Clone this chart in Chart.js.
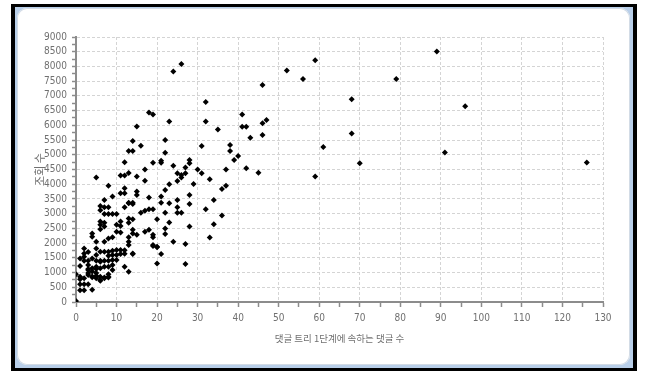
<!DOCTYPE html>
<html>
<head>
<meta charset="utf-8">
<script src="https://cdn.jsdelivr.net/npm/chart.js@4/dist/chart.umd.min.js"></script>
<style>
  html, body { margin: 0; padding: 0; background: #ffffff; }
  body { width: 645px; height: 371px; position: relative; overflow: hidden; }
  #frame {
    position: absolute; left: 11px; top: 4px; width: 618px; height: 361px;
    border: 4px solid #000; border-top-width: 3px; background: #b9cfe9;
  }
  #panel {
    position: absolute; left: 2px; top: 1px; right: 3px; bottom: 3px;
    background: #fff; border-radius: 10px;
    box-shadow: inset 0 0 0 1px #d3dce6;
  }
  #plot { position: absolute; left: 0; top: 0; }
</style>
</head>
<body>
<div id="frame"><div id="panel"></div></div>
<canvas id="plot" width="645" height="371"></canvas>
<script>
// Replies in the first level of the comment tree (x) and view counts (y), one entry per post
const replyCounts = [
  5, 11, 12, 13, 12, 15, 13, 14, 14, 15, 16, 17, 17, 18, 19, 19, 21, 21, 22, 22,
  23, 24, 26, 24, 25, 25, 26, 26, 27, 27, 28, 28, 30, 31, 31, 32, 32, 33, 35, 37,
  38, 38, 39, 40, 41, 41, 42, 42, 43, 45, 46, 46, 47, 46, 52, 56, 59, 59, 61, 68,
  68, 70, 79, 89, 96, 91, 126, 29, 23,
  8, 9, 11, 12, 12, 15, 15, 18, 21, 22, 7, 13, 14, 21, 23, 25,
  36, 37, 34, 32, 36, 34, 33,
  16, 17, 18, 19, 20, 22, 25, 25, 26, 28, 28, 28, 27, 24, 22, 22, 23, 21, 20, 27,
  19, 20, 14, 15, 17, 18, 19, 19, 19, 20, 14, 12, 13,
  0, 0,
  1, 1, 1, 1, 2, 2, 3, 4,
  2, 2, 2, 3, 3, 4, 1, 2,
  3, 3, 4, 4, 3, 3, 4, 1, 2, 3, 4,
  5, 5, 5, 5, 5, 6, 6, 6, 6, 7, 7, 8, 8, 8, 7, 8, 9, 9, 6, 7, 8, 9, 10, 5, 6,
  5, 5, 5, 6, 7, 8, 9, 10, 11, 11, 10, 9, 8,
  4, 4, 7, 8, 9,
  6, 6, 7, 7, 6, 10, 11, 10, 11,
  6, 6, 7, 8, 7, 8, 9, 10, 12, 13, 14,
  11, 13, 13, 14,
  13, 13, 13, 14, 14, 12, 12
];
const viewCounts = [
  4230, 4300, 4300, 4380, 4750, 4260, 5130, 5130, 5470, 5960, 5310, 4500, 4120, 6440, 6370, 4730, 4800, 4730, 5500, 5070,
  6130, 7830, 8080, 4630, 4370, 4110, 4230, 4310, 4570, 4370, 4820, 4710, 4500, 5300, 4370, 6790, 6130, 4170, 5860, 4500,
  5330, 5130, 4820, 4960, 6370, 5950, 5950, 4540, 5580, 4390, 7370, 6070, 6180, 5670, 7860, 7570, 8210, 4260, 5260, 6890,
  5720, 4710, 7570, 8510, 6650, 5080, 4740, 4010, 4000,
  3950, 3580, 3690, 3860, 3690, 3750, 3630, 3550, 3580, 3800, 3460, 3370, 3370, 3370, 3350, 3460,
  3840, 3950, 3460, 3150, 2940, 2640, 2190,
  3030, 3100, 3150, 3150, 2810, 3030, 3220, 3030, 3030, 3630, 3330, 2560, 1970, 2050, 2500, 2310, 2700, 1630, 1310, 1290,
  1900, 1880, 1630, 2280, 2390, 2450, 2280, 2200, 1940, 1860, 2450, 1200, 1030,
  30, 940,
  1220, 770, 600, 400, 600, 400, 600, 420,
  1820, 1540, 1650, 1400, 1700, 1480, 1480, 1400,
  1120, 985, 1040, 870, 1256, 1087, 1143, 860, 804, 917, 838,
  1120, 985, 895, 1200, 804, 860, 720, 1143, 747, 830, 804, 830, 860, 940, 1200, 1200, 1255, 1087, 1370, 1400, 1400, 1430, 1430, 1400, 1400,
  2050, 1820, 1600, 1710, 1710, 1710, 1740, 1770, 1770, 1630, 1600, 1600, 1570,
  2330, 2220, 2050, 2160, 2200,
  2730, 2620, 2690, 2560, 2470, 2620, 2580, 2390, 2360,
  3260, 3120, 3220, 3220, 2990, 2990, 2990, 2990, 3220, 3350, 3330,
  2730, 2840, 2690, 2810,
  2200, 2050, 1940, 2330, 1650, 1760, 1640
];

// Labelled tick values on each axis
const xTickLabels = [0, 10, 20, 30, 40, 50, 60, 70, 80, 90, 100, 110, 120, 130];
const yTickLabels = [0, 500, 1000, 1500, 2000, 2500, 3000, 3500, 4000, 4500, 5000,
                     5500, 6000, 6500, 7000, 7500, 8000, 8500, 9000];

const xTitle = '댓글 트리 1단계에 속하는 댓글 수';
const yTitle = '조회 수';

const points = replyCounts.map((x, i) => ({ x: x, y: viewCounts[i] }));

const tickFont = { family: "'Liberation Sans Narrow', 'DejaVu Sans Condensed', 'Liberation Sans', sans-serif", size: 10 };
const gridColor = '#d4d4d4';
const axisColor = '#8c8c8c';
const textColor = '#707070';

new Chart(document.getElementById('plot'), {
  type: 'scatter',
  data: {
    datasets: [{
      data: points,
      pointStyle: 'rectRot',
      pointRadius: 3,
      pointHoverRadius: 3,
      backgroundColor: '#000',
      borderColor: '#000',
      borderWidth: 0
    }]
  },
  options: {
    responsive: false,
    devicePixelRatio: 1,
    animation: false,
    events: [],
    layout: { padding: { left: 26, top: 37, right: 42, bottom: 17 } },
    plugins: { legend: { display: false }, tooltip: { enabled: false } },
    scales: {
      x: {
        type: 'linear',
        min: 0, max: 130,
        afterFit: s => { s.height = 52; },
        ticks: {
          stepSize: 5, autoSkip: false, maxRotation: 0, padding: 5,
          color: textColor, font: tickFont,
          callback: v => xTickLabels.includes(v) ? String(v) : ''
        },
        grid: {
          tickLength: 5,
          color: c => (c.tick && xTickLabels.includes(c.tick.value)) ? gridColor : 'rgba(0,0,0,0)',
          tickColor: axisColor, tickWidth: 1.5
        },
        border: { display: true, color: axisColor, width: 2, dash: [3, 2] },
        title: {
          display: true, text: xTitle, color: textColor,
          font: { family: "'Noto Sans CJK KR', sans-serif", size: 9.5 },
          padding: { top: 0, bottom: 10 }
        }
      },
      y: {
        type: 'linear',
        min: 0, max: 9000,
        afterFit: s => { s.width = 50; },
        ticks: {
          stepSize: 250, autoSkip: false, padding: 5,
          color: textColor, font: tickFont,
          callback: v => yTickLabels.includes(v) ? String(v) : ''
        },
        grid: {
          tickLength: 4,
          color: c => (c.tick && yTickLabels.includes(c.tick.value)) ? gridColor : 'rgba(0,0,0,0)',
          tickColor: axisColor, tickWidth: 1.5
        },
        border: { display: true, color: axisColor, width: 2, dash: [3, 2] },
        title: {
          display: true, text: yTitle, color: textColor,
          font: { family: "'Noto Sans CJK KR', sans-serif", size: 11 },
          padding: { top: 7, bottom: 0 }
        }
      }
    }
  }
});
</script>
</body>
</html>
